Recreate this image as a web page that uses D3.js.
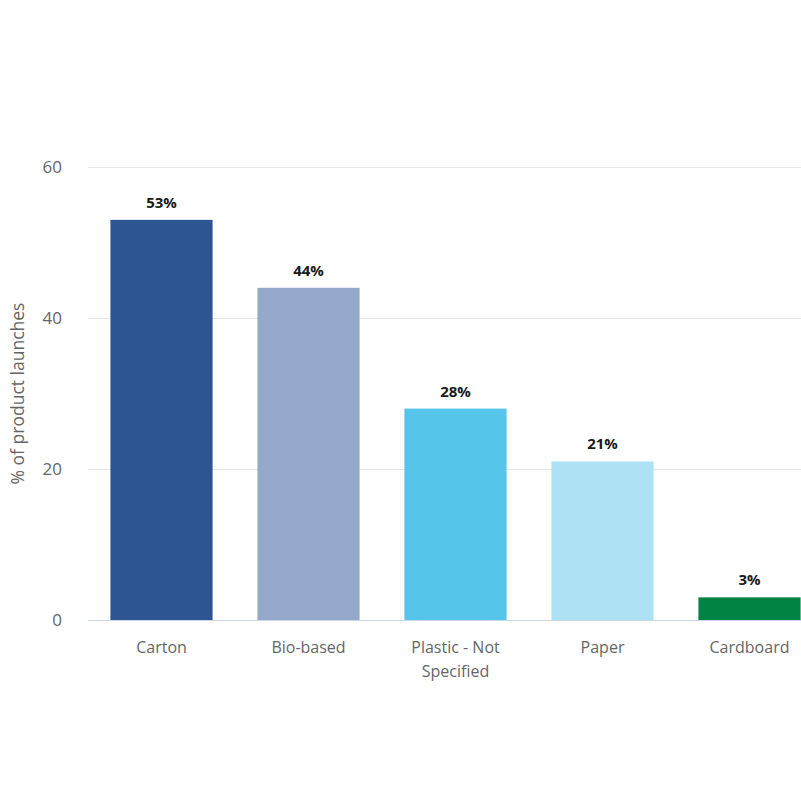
<!DOCTYPE html>
<html lang="en">
<head>
  <meta charset="UTF-8">
  <title>Packaging material</title>
  <script src="https://d3js.org/d3.v7.min.js"></script>
  <style>
    html, body { margin: 0; padding: 0; background: #fff; }
    text { font-family: "Open Sans", "Noto Sans", sans-serif; }
  </style>
</head>
<body>
  <div id="container"></div>
  <script>
    // data
    const categories = ['Carton', 'Bio-based', 'Plastic - Not Specified', 'Paper', 'Cardboard'];
    const values = [53, 44, 28, 21, 3];
    const colors = ['#2d5592', '#94a9c9', '#56c5ea', '#ace2f4', '#008345'];
    const yTicks = [0, 20, 40, 60];

    const width = 801, height = 801;
    const plot = {left: 88, right: 823, top: 167, bottom: 620};

    const svg = d3.select('#container').append('svg')
      .attr('width', width).attr('height', height);

    const x = d3.scaleBand().domain(categories).range([plot.left, plot.right]).paddingInner(0.305).paddingOuter(0.1525);
    const y = d3.scaleLinear().domain([0, 60]).range([plot.bottom, plot.top]);

    // gridlines + y labels
    const yAxis = d3.axisLeft(y).tickValues(yTicks).tickSize(-(plot.right - plot.left)).tickPadding(26);
    const gy = svg.append('g').attr('transform', `translate(${plot.left},0)`).call(yAxis);
    gy.select('.domain').remove();
    gy.selectAll('.tick line').attr('stroke', '#e6e6e6');
    gy.selectAll('.tick text').attr('fill', '#666').style('font-size', '17px');

    // bars
    svg.selectAll('.bar').data(values).enter().append('rect')
      .attr('class', 'bar')
      .attr('x', (d, i) => x(categories[i]))
      .attr('width', x.bandwidth())
      .attr('y', d => y(d))
      .attr('height', d => y(0) - y(d))
      .attr('fill', (d, i) => colors[i]);

    // data labels
    svg.selectAll('.lbl').data(values).enter().append('text')
      .attr('class', 'lbl')
      .attr('x', (d, i) => x(categories[i]) + x.bandwidth() / 2)
      .attr('y', d => y(d) - 12)
      .attr('text-anchor', 'middle')
      .style('font-size', '15px').style('font-weight', 'bold')
      .attr('fill', '#1a1a1a')
      .text(d => d + '%');

    // x axis
    const xAxis = d3.axisBottom(x).tickSize(0).tickPadding(0);
    const gx = svg.append('g').attr('transform', `translate(0,${plot.bottom})`).call(xAxis);
    gx.select('.domain').attr('stroke', '#ccd6eb');
    gx.selectAll('.tick text').remove();
    gx.selectAll('.tick').append('text')
      .attr('text-anchor', 'middle')
      .attr('fill', '#666')
      .style('font-size', '16px')
      .each(function(d) {
        const lines = d === 'Plastic - Not Specified' ? ['Plastic - Not', 'Specified'] : [d];
        lines.forEach((t, k) => {
          d3.select(this).append('tspan').attr('x', 0).attr('y', 33 + k * 24).text(t);
        });
      });

    // y axis title
    svg.append('text')
      .attr('transform', `translate(24,${(plot.top + plot.bottom) / 2}) rotate(-90)`)
      .attr('text-anchor', 'middle')
      .attr('fill', '#666')
      .style('font-size', '17.5px')
      .text('% of product launches');
  </script>
</body>
</html>
